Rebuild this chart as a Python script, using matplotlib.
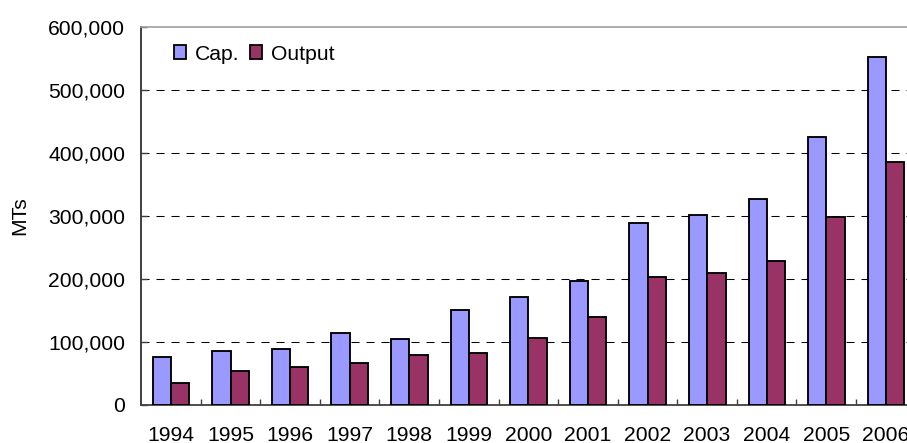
import matplotlib
matplotlib.use("Agg")
import matplotlib.pyplot as plt
from matplotlib.patches import Patch
from matplotlib.ticker import FuncFormatter, FixedLocator
import numpy as np

years = ["1994", "1995", "1996", "1997", "1998", "1999", "2000",
         "2001", "2002", "2003", "2004", "2005", "2006"]
capacity = [75700, 85700, 88400, 113800, 104200, 151300, 171400,
            196300, 288400, 301100, 326500, 425400, 551900]
output = [34400, 54000, 59800, 66700, 78800, 82000, 106900,
          139200, 202700, 209000, 228000, 297900, 386200]
series_names = ["Cap.", "Output"]
yticks = [0, 100000, 200000, 300000, 400000, 500000, 600000]

plt.rcParams['font.family'] = ['Liberation Sans', 'DejaVu Sans']
plt.rcParams['lines.scale_dashes'] = False

W, H = 907, 443
fig = plt.figure(figsize=(W / 100, H / 100), dpi=100)
left_px, right_px, top_px, bot_px = 141, 915.6, 27, 405
ax = fig.add_axes([left_px / W, (H - bot_px) / H,
                   (right_px - left_px) / W, (bot_px - top_px) / H])

cap_color = '#9999FF'
out_color = '#993366'
x = np.arange(len(years))
bw = 0.307
ax.bar(x - bw / 2 + 0.003, capacity, width=bw, color=cap_color,
       edgecolor='black', linewidth=1.35, zorder=3)
ax.bar(x + bw / 2 + 0.003, output, width=bw, color=out_color,
       edgecolor='black', linewidth=1.35, zorder=3)

ax.set_xlim(-0.5, len(years) - 0.5)
ax.set_ylim(0, 600000)

# grid lines
for v in yticks[1:-1]:
    ax.axhline(v, color='black', linewidth=0.75,
               linestyle=(0, (5.8, 5.0)), zorder=1)

FS = 15.2
ax.set_yticks(yticks)
ax.yaxis.set_major_formatter(FuncFormatter(lambda v, p: f"{int(v):,}"))
ax.tick_params(axis='y', direction='in', length=4, width=1, color='#404040',
               labelsize=FS, pad=11.5)

ax.set_xticks(x)
ax.set_xticklabels(years)
ax.tick_params(axis='x', which='major', length=0, labelsize=FS, pad=14.8)
ax.xaxis.set_minor_locator(FixedLocator(np.arange(0.5, len(years) - 0.5, 1)))
ax.tick_params(axis='x', which='minor', direction='in', length=4.3,
               width=1, color='#404040')

ax.spines['left'].set_color('#303030')
ax.spines['left'].set_linewidth(1.3)
ax.spines['bottom'].set_color('#404040')
ax.spines['bottom'].set_linewidth(1.3)
ax.spines['top'].set_color('#a0a0a0')
ax.spines['top'].set_linewidth(1.2)
ax.spines['right'].set_visible(False)

ax.set_ylabel("MTs", fontsize=FS)
ax.yaxis.set_label_coords(-0.1446, 0.5)

handles = [Patch(facecolor=cap_color, edgecolor='black', linewidth=1.3),
           Patch(facecolor=out_color, edgecolor='black', linewidth=1.3)]
fig.legend(handles, series_names, loc='center left',
           bbox_to_anchor=(174 / W, 1 - 54 / H), ncol=2, frameon=False,
           fontsize=FS, handlelength=0.58, handleheight=0.58,
           handletextpad=0.42, columnspacing=0.5, borderpad=0,
           borderaxespad=0)

fig.savefig("out.png", dpi=100)
